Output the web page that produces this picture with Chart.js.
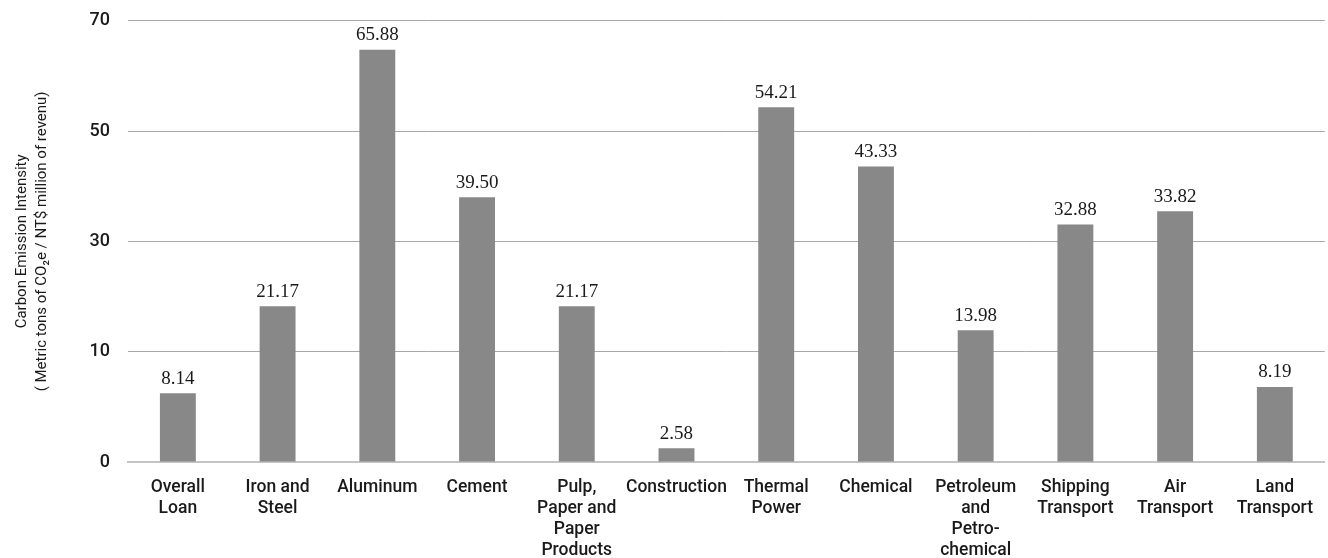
<!DOCTYPE html>
<html>
<head>
<meta charset="utf-8">
<script src="https://cdn.jsdelivr.net/npm/chart.js@4"></script>
<style>
  html, body { margin: 0; padding: 0; background: #fff; overflow: hidden; }
  #wrap { position: relative; top: -8px; width: 1328px; height: 566px; }
</style>
</head>
<body>
<div id="wrap"><canvas id="emissionChart"></canvas></div>
<script>
// Categories, printed values and bar heights (read against the drawn axis)
const sectors = [
    ['Overall', 'Loan'], ['Iron and', 'Steel'], 'Aluminum', 'Cement',
    ['Pulp,', 'Paper and', 'Paper', 'Products'], 'Construction', ['Thermal', 'Power'],
    'Chemical', ['Petroleum', 'and', 'Petro-', 'chemical'], ['Shipping', 'Transport'],
    ['Air', 'Transport'], ['Land', 'Transport']
];
const valueLabels = ['8.14', '21.17', '65.88', '39.50', '21.17', '2.58', '54.21', '43.33', '13.98', '32.88', '33.82', '8.19'];
const barHeights = [10.9, 24.7, 65.4, 42.0, 24.7, 2.2, 56.3, 46.9, 20.9, 37.7, 39.8, 11.9];
const yTickLabels = ['0', '10', '30', '50', '70'];

// draws the number above every bar
const barValuePlugin = {
    id: 'barValues',
    afterDatasetsDraw(chart) {
        const ctx = chart.ctx;
        const meta = chart.getDatasetMeta(0);
        ctx.save();
        ctx.font = '19px "Liberation Serif", "Times New Roman", serif';
        ctx.fillStyle = '#1a1a1a';
        ctx.textAlign = 'center';
        ctx.textBaseline = 'bottom';
        meta.data.forEach((bar, i) => {
            ctx.fillText(valueLabels[i], bar.x, bar.y - 5);
        });
        ctx.restore();
    }
};

const ctx = document.getElementById('emissionChart').getContext('2d');
const emissionChart = new Chart(ctx, {
    type: 'bar',
    data: {
        labels: sectors,
        datasets: [{
            data: barHeights,
            backgroundColor: '#888888',
            barPercentage: 0.36,
            categoryPercentage: 1
        }]
    },
    plugins: [barValuePlugin],
    options: {
        responsive: true,
        maintainAspectRatio: false,
        animation: false,
        layout: { padding: { top: 7, right: 0, bottom: 0, left: 0 } },
        plugins: {
            legend: { display: false },
            tooltip: { enabled: false }
        },
        scales: {
            x: {
                grid: { display: false, drawTicks: false },
                border: { display: true, color: '#c4c4c4', width: 2 },
                ticks: {
                    color: '#1a1a1a',
                    padding: 15,
                    maxRotation: 0,
                    autoSkip: false,
                    font: { family: 'Roboto', size: 17.5, weight: '500', lineHeight: 1.2 }
                },
                afterFit(scale) { scale.height = 96; }
            },
            y: {
                min: 0,
                max: 70,
                ticks: {
                    stepSize: 17.5,
                    padding: 18,
                    color: '#1a1a1a',
                    font: { family: 'Roboto', size: 18, weight: '500' },
                    callback: (v, i) => yTickLabels[i]
                },
                grid: {
                    drawTicks: false,
                    color: (c) => c.index === 0 ? 'rgba(0,0,0,0)' : '#a8a8a8',
                    lineWidth: 1
                },
                border: { display: false },
                title: {
                    display: true,
                    text: ['Carbon Emission Intensity', '( Metric tons of CO\u2082e / NT$ million of revenu)'],
                    color: '#1a1a1a',
                    font: { family: 'Roboto', size: 15, lineHeight: 1.33 },
                    padding: { top: 12, bottom: 0 }
                },
                afterFit(scale) { scale.width = 128; }
            }
        }
    }
});
</script>
</body>
</html>
